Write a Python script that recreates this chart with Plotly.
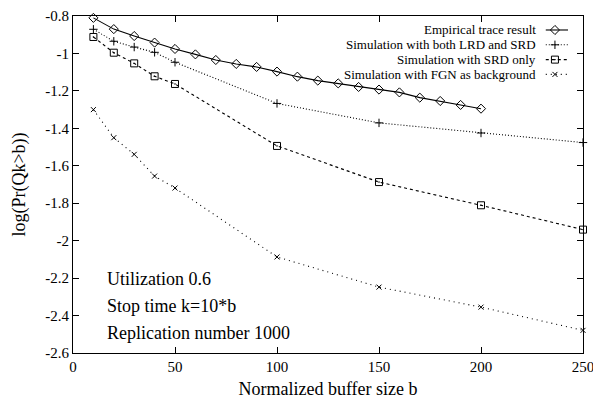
import plotly.graph_objects as go

# ---- data ----
b_emp = [10, 20, 30, 40, 50, 60, 70, 80, 90, 100, 110, 120, 130, 140, 150, 160, 170, 180, 190, 200]
emp = [-0.81, -0.87, -0.907, -0.942, -0.976, -1.005, -1.035, -1.056, -1.072, -1.097,
       -1.124, -1.145, -1.16, -1.179, -1.193, -1.208, -1.236, -1.254, -1.275, -1.295]

b_sim = [10, 20, 30, 40, 50, 100, 150, 200, 250]
lrd_srd = [-0.871, -0.935, -0.966, -0.994, -1.047, -1.267, -1.371, -1.425, -1.476]
srd_only = [-0.912, -0.996, -1.053, -1.122, -1.163, -1.494, -1.687, -1.811, -1.941]
fgn = [-1.300, -1.450, -1.539, -1.655, -1.719, -2.087, -2.248, -2.355, -2.479]

series_names = ["Empirical trace result", "Simulation with both LRD and SRD",
                "Simulation with SRD only", "Simulation with FGN as background"]

x_ticks = [0, 50, 100, 150, 200, 250]
y_ticks = [-2.6, -2.4, -2.2, -2.0, -1.8, -1.6, -1.4, -1.2, -1.0, -0.8]
y_tick_text = ["-2.6", "-2.4", "-2.2", "-2", "-1.8", "-1.6", "-1.4", "-1.2", "-1", "-0.8"]

notes = ["Utilization 0.6", "Stop time k=10*b", "Replication number 1000"]

FONT = "Liberation Serif"

styles = [
    dict(dash="solid", symbol="diamond-open", size=7),
    dict(dash="1px,2px", symbol="cross-thin-open", size=6),
    dict(dash="3px,3px", symbol="square-open-dot", size=7),
    dict(dash="1px,4px", symbol="x-thin-open", size=5),
]
xs = [b_emp, b_sim, b_sim, b_sim]
ys = [emp, lrd_srd, srd_only, fgn]

fig = go.Figure()
for xv, yv, st, nm in zip(xs, ys, styles, series_names):
    fig.add_trace(go.Scatter(
        x=xv, y=yv, mode="lines+markers", name=nm, showlegend=False,
        line=dict(color="black", width=1.1, dash=st["dash"]),
        marker=dict(symbol=st["symbol"], size=st["size"], color="black",
                    line=dict(color="black", width=1)),
        cliponaxis=False,
    ))

# ---- custom legend (text left of sample, like gnuplot) ----
leg_rows = [0.9585, 0.9145, 0.8706, 0.8267]
leg_x0, leg_xm, leg_x1 = 0.927, 0.945, 0.9706
leg_text_x = 0.9098
for st, nm, ry in zip(styles, series_names, leg_rows):
    fig.add_trace(go.Scatter(
        x=[leg_x0, leg_x1], y=[ry, ry], mode="lines", xaxis="x2", yaxis="y2",
        showlegend=False, hoverinfo="skip",
        line=dict(color="black", width=1.1, dash=st["dash"])))
    fig.add_trace(go.Scatter(
        x=[leg_xm], y=[ry], mode="markers", xaxis="x2", yaxis="y2",
        showlegend=False, hoverinfo="skip",
        marker=dict(symbol=st["symbol"], size=st["size"], color="black",
                    line=dict(color="black", width=1))))
    fig.add_annotation(x=leg_text_x, y=ry, xref="paper", yref="paper", text=nm,
                       showarrow=False, xanchor="right", yanchor="middle", borderpad=0,
                       font=dict(family=FONT, size=13, color="black"))

note_y = [-2.207, -2.351, -2.495]
for t, yy in zip(notes, note_y):
    fig.add_annotation(x=15.5, y=yy, xref="x", yref="y", text=t, showarrow=False,
                       xanchor="left", yanchor="middle",
                       font=dict(family=FONT, size=18, color="black"))

axis_common = dict(showline=True, linecolor="black", linewidth=1, mirror="ticks",
                   ticks="inside", ticklen=6, tickcolor="black", tickwidth=1,
                   showgrid=False, zeroline=False, automargin=False,
                   ticklabeloverflow="allow",
                   tickfont=dict(family=FONT, size=15, color="black"))

fig.update_layout(
    width=593, height=399,
    margin=dict(l=73, r=10, t=16, b=46),
    paper_bgcolor="white", plot_bgcolor="white",
    font=dict(family=FONT, color="black"),
    xaxis=dict(range=[0, 250], tickvals=x_ticks,
               title=dict(text="Normalized buffer size b", font=dict(family=FONT, size=18), standoff=13),
               **axis_common),
    yaxis=dict(range=[-2.6, -0.8], tickvals=y_ticks, ticktext=y_tick_text,
               title=dict(text="log(Pr(Qk>b))", font=dict(family=FONT, size=18), standoff=14),
               **axis_common),
    xaxis2=dict(range=[0, 1], overlaying="x", visible=False, fixedrange=True),
    yaxis2=dict(range=[0, 1], overlaying="y", visible=False, fixedrange=True),
    showlegend=False,
)

fig.write_html("out.html")
